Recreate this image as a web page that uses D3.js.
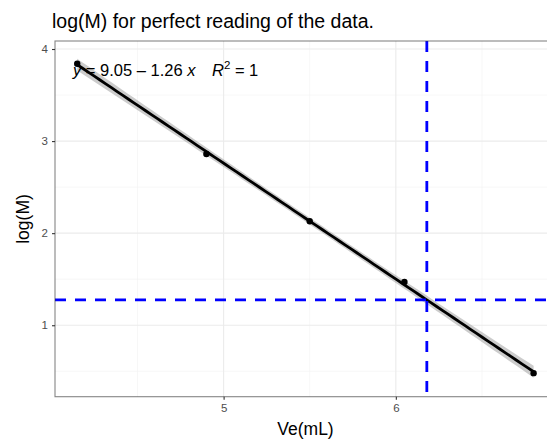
<!DOCTYPE html>
<html><head><meta charset="utf-8">
<script src="https://cdn.jsdelivr.net/npm/d3@7"></script>
<style>body{margin:0;background:#fff}svg{display:block;font-family:"Liberation Sans",Arial,sans-serif}</style>
</head><body>
<svg id="c" width="547" height="440"></svg>
<script>
const veValues = [4.15, 4.90, 5.50, 6.05, 6.80];
const logMValues = [3.84, 2.86, 2.13, 1.47, 0.48];
const xTicks = [5, 6];
const yTicks = [1, 2, 3, 4];
const xMinor = [4.5, 5.5, 6.5];
const yMinor = [0.5, 1.5, 2.5, 3.5];
const refVe = [6.18];
const refLogM = [1.275];
const titleText = "log(M) for perfect reading of the data.";

const svg = d3.select("#c");
const L = 55, T = 41, R = 556, B = 396.7;
const x = d3.scaleLinear().domain([4.021, 6.93]).range([L, R]);
const y = d3.scaleLinear().domain([0.224, 4.087]).range([B, T]);

const data = veValues.map((v, i) => ({x: v, y: logMValues[i]}));
const n = data.length;
const mx = d3.mean(data, d => d.x), my = d3.mean(data, d => d.y);
const sxx = d3.sum(data, d => (d.x - mx) ** 2);
const sxy = d3.sum(data, d => (d.x - mx) * (d.y - my));
const b1 = sxy / sxx, b0 = my - b1 * mx;
const sse = d3.sum(data, d => (d.y - b0 - b1 * d.x) ** 2);
const s = Math.sqrt(sse / (n - 2));
const tcrit = 3.182;
const xs = d3.range(0, 81).map(i => d3.min(veValues) + (d3.max(veValues) - d3.min(veValues)) * i / 80);
const band = xs.map(v => {
  const fit = b0 + b1 * v;
  const se = s * Math.sqrt(1 / n + (v - mx) ** 2 / sxx);
  return {x: v, fit, lo: fit - tcrit * se, hi: fit + tcrit * se};
});

svg.append("clipPath").attr("id", "pc").append("rect")
  .attr("x", L).attr("y", T).attr("width", R - L).attr("height", B - T);

const g = svg.append("g");
g.selectAll(".xm").data(xMinor).join("line")
  .attr("x1", d => x(d)).attr("x2", d => x(d)).attr("y1", T).attr("y2", B)
  .attr("stroke", "#f2f2f2").attr("stroke-width", 0.6);
g.selectAll(".ym").data(yMinor).join("line")
  .attr("y1", d => y(d)).attr("y2", d => y(d)).attr("x1", L).attr("x2", R)
  .attr("stroke", "#f2f2f2").attr("stroke-width", 0.6);
g.selectAll(".xg").data(xTicks).join("line")
  .attr("x1", d => x(d)).attr("x2", d => x(d)).attr("y1", T).attr("y2", B)
  .attr("stroke", "#ebebeb").attr("stroke-width", 1.1);
g.selectAll(".yg").data(yTicks).join("line")
  .attr("y1", d => y(d)).attr("y2", d => y(d)).attr("x1", L).attr("x2", R)
  .attr("stroke", "#ebebeb").attr("stroke-width", 1.1);

const pg = svg.append("g").attr("clip-path", "url(#pc)");
pg.append("path").datum(band)
  .attr("d", d3.area().x(d => x(d.x)).y0(d => y(d.lo)).y1(d => y(d.hi)))
  .attr("fill", "#999999").attr("opacity", 0.5);
pg.append("path").datum(band)
  .attr("d", d3.line().x(d => x(d.x)).y(d => y(d.fit)))
  .attr("fill", "none").attr("stroke", "#000").attr("stroke-width", 2.8);
pg.selectAll("circle").data(data).join("circle")
  .attr("cx", d => x(d.x)).attr("cy", d => y(d.y)).attr("r", 3.2).attr("fill", "#000");
pg.selectAll(".vl").data(refVe).join("line")
  .attr("x1", d => x(d)).attr("x2", d => x(d)).attr("y1", T).attr("y2", B)
  .attr("stroke", "#0000ff").attr("stroke-width", 2.8).attr("stroke-dasharray", "11,9");
pg.selectAll(".hl").data(refLogM).join("line")
  .attr("y1", d => y(d)).attr("y2", d => y(d)).attr("x1", L).attr("x2", R)
  .attr("stroke", "#0000ff").attr("stroke-width", 2.8).attr("stroke-dasharray", "11,9");

const eq = svg.append("text").attr("x", 73).attr("y", 76).attr("font-size", 16.5).attr("fill", "#000");
eq.append("tspan").attr("font-style", "italic").text("y");
eq.append("tspan").text(" = " + b0.toFixed(2) + " \u2013 " + Math.abs(b1).toFixed(2) + " ");
eq.append("tspan").attr("font-style", "italic").text("x");
eq.append("tspan").text("\u2002\u2002");
eq.append("tspan").attr("font-style", "italic").text("R");
eq.append("tspan").attr("font-size", 11.5).attr("dy", -7).text("2");
eq.append("tspan").attr("dy", 7).text(" = 1");

svg.append("rect").attr("x", L).attr("y", T).attr("width", R - L).attr("height", B - T)
  .attr("fill", "none").attr("stroke", "#333333").attr("stroke-width", 1.1).attr("opacity", 0.6);

const xa = svg.append("g").attr("transform", `translate(0,${B})`)
  .call(d3.axisBottom(x).tickValues(xTicks).tickSize(3).tickPadding(4).tickFormat(d3.format("d")));
const ya = svg.append("g").attr("transform", `translate(${L},0)`)
  .call(d3.axisLeft(y).tickValues(yTicks).tickSize(3).tickPadding(4).tickFormat(d3.format("d")));
[xa, ya].forEach(a => {
  a.select(".domain").remove();
  a.selectAll(".tick line").attr("stroke", "#333").attr("stroke-width", 1.1);
  a.selectAll(".tick text").attr("fill", "#4d4d4d").attr("font-size", 11.5)
    .attr("font-family", "Liberation Sans, Arial, sans-serif");
});

svg.append("text").attr("x", (L + R) / 2).attr("y", 435).attr("text-anchor", "middle")
  .attr("font-size", 17.5).text("Ve(mL)");
svg.append("text").attr("transform", `translate(29,${219}) rotate(-90)`)
  .attr("text-anchor", "middle").attr("font-size", 17.5).text("log(M)");
svg.append("text").attr("x", 52).attr("y", 28).attr("font-size", 19.5).text(titleText);
</script>
</body></html>
